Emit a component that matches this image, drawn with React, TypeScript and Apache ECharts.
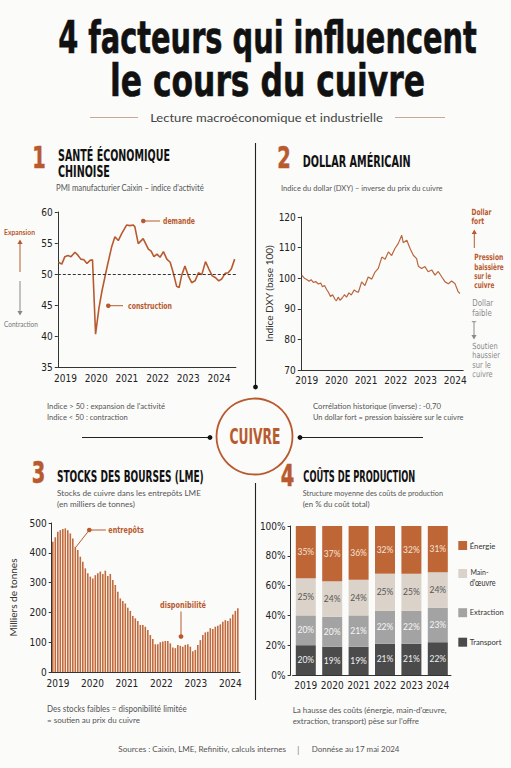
import React, { useEffect, useRef } from 'react';
import * as echarts from 'echarts';

// ---------- DATA ----------
const yearLabels = ['2019', '2020', '2021', '2022', '2023', '2024'];
const yearTicks = [2019, 2020, 2021, 2022, 2023, 2024];

// 1. PMI manufacturier Caixin
const pmiYears = [
  2018.77, 2018.88, 2018.98, 2019.08, 2019.18, 2019.31, 2019.41, 2019.5, 2019.6, 2019.7,
  2019.8, 2019.88, 2019.98, 2020.09, 2020.19, 2020.34, 2020.5, 2020.61, 2020.72, 2020.83,
  2020.99, 2021.1, 2021.21, 2021.26, 2021.37, 2021.53, 2021.7, 2021.79, 2021.88, 2021.98,
  2022.08, 2022.19, 2022.3, 2022.41, 2022.51, 2022.62, 2022.7, 2022.78, 2022.89, 2023.0,
  2023.11, 2023.22, 2023.33, 2023.44, 2023.56, 2023.67, 2023.78, 2023.89, 2023.99, 2024.09,
  2024.2, 2024.3, 2024.4, 2024.51,
];
const pmiValues = [
  51.9, 51.6, 52.8, 53.0, 52.8, 53.5, 53.0, 52.4, 52.3, 51.7,
  52.2, 52.3, 40.3, 44.5, 47.3, 50.8, 54.3, 56.0, 55.4, 56.5,
  57.9, 57.8, 57.9, 57.6, 54.9, 55.7, 54.0, 53.7, 52.8, 53.2,
  52.7, 53.6, 52.4, 51.9, 50.2, 48.0, 47.8, 49.7, 51.3, 49.7,
  48.6, 48.9, 50.2, 49.9, 52.0, 50.8, 49.7, 49.4, 48.9, 49.2,
  50.1, 50.2, 50.8, 52.4,
];

// 2. Indice du dollar (DXY)
const dxyYears = [
  2018.83, 2018.92, 2019.0, 2019.08, 2019.15, 2019.22, 2019.3, 2019.39, 2019.47, 2019.53,
  2019.6, 2019.67, 2019.73, 2019.8, 2019.87, 2019.95, 2020.0, 2020.06, 2020.12, 2020.2,
  2020.27, 2020.34, 2020.42, 2020.5, 2020.6, 2020.67, 2020.74, 2020.85, 2020.96, 2021.07,
  2021.19, 2021.3, 2021.41, 2021.53, 2021.64, 2021.75, 2021.86, 2021.97, 2022.08, 2022.2,
  2022.25, 2022.37, 2022.48, 2022.59, 2022.7, 2022.76, 2022.87, 2022.98, 2023.09, 2023.21,
  2023.32, 2023.43, 2023.55, 2023.66, 2023.77, 2023.88, 2023.99, 2024.1, 2024.16,
];
const dxyValues = [
  101.0, 100.0, 99.6, 99.0, 99.5, 98.6, 98.9, 98.1, 98.4, 97.2,
  97.6, 96.3, 95.4, 94.0, 94.6, 93.1, 92.6, 93.8, 92.8, 93.6,
  94.6, 93.8, 95.2, 94.5, 96.2, 95.6, 95.4, 98.8, 97.6, 100.4,
  99.7, 102.0, 103.2, 106.9, 106.2, 108.6, 107.4, 109.7, 111.3, 114.0,
  111.6, 112.4, 109.7, 107.5, 106.4, 103.9, 103.2, 103.8, 102.1, 102.7,
  101.0, 102.2, 100.4, 98.8, 98.2, 99.1, 98.3, 95.6, 95.0,
];

// 3. Stocks LME (milliers de tonnes), périodes régulières
const lmeStart = 2018.852;
const lmeStep = 0.0725;
const lmeStocks = [
  437, 452, 471, 476, 480, 482, 476, 465, 448, 420, 409, 387, 370, 348, 331, 320, 314, 325,
  331, 337, 329, 340, 322, 329, 309, 292,
  269, 247, 238, 230, 216, 205, 188, 180, 171, 158, 158, 152, 141, 124, 111, 93, 93, 100,
  102, 104, 104, 96, 82, 80, 91, 88, 85, 91, 93, 85, 70, 74, 91, 107, 124, 133, 135, 147,
  144, 152, 155, 160, 169, 174, 171, 180, 193, 205, 214,
];

// 4. Coûts de production (%)
const energie = [35, 37, 36, 32, 32, 31];
const mainOeuvre = [25, 24, 24, 25, 25, 24];
const extraction = [20, 20, 21, 22, 22, 23];
const transport = [20, 19, 19, 21, 21, 22];

// ---------- STYLE ----------
const COND = '"Liberation Sans Narrow", "DejaVu Sans Condensed", sans-serif';
const HEAVY = '"DejaVu Sans Condensed", "DejaVu Sans", sans-serif';
const BODY = 'Lato, "Open Sans", "Noto Sans", sans-serif';
const ORANGE = '#b85a2e';
const BG = '#fbfbfa';
const C_ENERGIE = '#bf6636';
const C_MAIN = '#dbd3ca';
const C_EXTR = '#a3a3a3';
const C_TRANS = '#4b4b4b';

let measureCtx: CanvasRenderingContext2D | null = null;
function measure(text: string, font: string) {
  if (!measureCtx) measureCtx = document.createElement('canvas').getContext('2d');
  if (!measureCtx) return 0;
  measureCtx.font = font;
  return measureCtx.measureText(text).width;
}

function T(text: string, x: number, y: number, o: any = {}) {
  const size = o.size ?? 8.5;
  const weight = o.weight ?? 'normal';
  const family = o.family ?? BODY;
  const font = `${weight} ${size}px ${family}`;
  let sx = 1;
  if (o.width) {
    const w = measure(text, font);
    if (w > 0) sx = o.width / w;
  }
  const align = o.align ?? 'left';
  const style: any = {
    text,
    font,
    fill: o.color ?? '#555',
    textAlign: align,
    align,
    verticalAlign: 'middle',
    textVerticalAlign: 'middle',
  };
  if (o.stroke) {
    style.stroke = o.color;
    style.lineWidth = o.stroke;
  }
  return { type: 'text', x, y, scaleX: sx, silent: true, z: 10, style };
}
function L(x1: number, y1: number, x2: number, y2: number, color = '#222', w = 1.1) {
  return { type: 'line', silent: true, z: 5, shape: { x1, y1, x2, y2 }, style: { stroke: color, lineWidth: w } };
}
function Dot(cx: number, cy: number, r = 2.4, color = '#111') {
  return { type: 'circle', silent: true, z: 12, shape: { cx, cy, r }, style: { fill: color } };
}
function Head(x: number, y: number, dir: number, color: string) {
  return {
    type: 'polygon',
    silent: true,
    z: 6,
    shape: { points: [[x, y], [x - 2.6, y - dir * 4.5], [x + 2.6, y - dir * 4.5]] },
    style: { fill: color },
  };
}

function buildGraphic() {
  const g: any[] = [];
  // Title
  g.push(T('4 facteurs qui influencent', 267.5, 37, { size: 45, weight: 'bold', family: HEAVY, color: '#111', width: 419, align: 'center', stroke: 0.6 }));
  g.push(T('le cours du cuivre', 267.5, 80, { size: 45, weight: 'bold', family: HEAVY, color: '#111', width: 315, align: 'center', stroke: 0.6 }));
  g.push(T('Lecture macroéconomique et industrielle', 266.5, 117.5, { size: 11.5, color: '#444', width: 233, align: 'center' }));
  g.push(L(90, 117.5, 138, 117.5, '#caa696', 1));
  g.push(L(395, 117.5, 445, 117.5, '#caa696', 1));

  // Dividers + center
  g.push(L(255.5, 143, 255.5, 387));
  g.push(Dot(255.5, 387));
  g.push(L(82, 437.5, 210, 437.5));
  g.push(Dot(210, 437.5));
  g.push(L(300, 437.5, 423, 437.5));
  g.push(Dot(300, 437.5));
  g.push(L(255.5, 483, 255.5, 700));
  g.push({ type: 'circle', silent: true, z: 8, shape: { cx: 254.5, cy: 436.5, r: 38 }, style: { fill: BG, stroke: ORANGE, lineWidth: 1.8 } });
  g.push(T('CUIVRE', 255, 436.5, { size: 21, weight: 'bold', family: HEAVY, color: ORANGE, width: 51, align: 'center' }));

  // Panel numbers
  const num = (t: string, x: number, y: number) =>
    T(t, x, y, { size: 31, weight: 'bold', family: HEAVY, color: ORANGE, width: 13.5, align: 'center', stroke: 0.5 });
  g.push(num('1', 39, 157));
  g.push(num('2', 284, 157));
  g.push(num('3', 38.5, 471.5));
  g.push(num('4', 287.5, 475));

  // Panel titles
  const ttl = (t: string, x: number, y: number, w: number) => T(t, x, y, { size: 15.5, weight: 'bold', family: HEAVY, color: '#111', width: w });
  g.push(ttl('SANTÉ ÉCONOMIQUE', 58, 156, 112));
  g.push(ttl('CHINOISE', 58, 171.5, 52));
  g.push(ttl('DOLLAR AMÉRICAIN', 302.7, 162, 108));
  g.push(ttl('STOCKS DES BOURSES (LME)', 57, 477, 147));
  g.push(ttl('COÛTS DE PRODUCTION', 303.3, 477, 112));

  // Subtitles
  const sub = (t: string, x: number, y: number, w: number) => T(t, x, y, { size: 8.5, color: '#555', width: w });
  g.push(sub("PMI manufacturier Caixin – indice d'activité", 56, 188, 148));
  g.push(sub('Indice du dollar (DXY) – inverse du prix du cuivre', 281, 188, 162));
  g.push(sub('Stocks de cuivre dans les entrepôts LME', 57, 493, 144));
  g.push(sub('(en milliers de tonnes)', 57, 504, 78));
  g.push(sub('Structure moyenne des coûts de production', 302.7, 493, 140.6));
  g.push(sub('(en % du coût total)', 302.7, 504, 67));

  // Notes
  g.push(sub("Indice > 50 : expansion de l'activité", 47, 406, 118));
  g.push(sub('Indice < 50 : contraction', 47, 417, 80.7));
  g.push(sub('Corrélation historique (inverse) : -0,70', 313, 406, 128));
  g.push(sub('Un dollar fort = pression baissière sur le cuivre', 313, 417, 151));
  g.push(sub('Des stocks faibles = disponibilité limitée', 47, 709, 140));
  g.push(sub('= soutien au prix du cuivre', 47, 720, 93));
  g.push(sub("La hausse des coûts (énergie, main-d'œuvre,", 292.7, 710, 154));
  g.push(sub("extraction, transport) pèse sur l'offre", 292.7, 720.7, 126.6));

  // Footer
  g.push(sub('Sources : Caixin, LME, Refinitiv, calculs internes', 118.3, 749, 168));
  g.push(T('|', 298.3, 749, { size: 10, color: '#888', align: 'center' }));
  g.push(sub('Donnése au 17 mai 2024', 311.7, 749, 88));

  // Panel 1 annotations
  g.push(T('Expansion', 4, 232, { size: 7.5, weight: 'bold', color: ORANGE, width: 31 }));
  g.push(L(20, 272, 20, 243, ORANGE, 1));
  g.push(Head(20, 239.5, -1, ORANGE));
  g.push(L(20, 281, 20, 311, '#888', 1));
  g.push(Head(20, 315.5, 1, '#888'));
  g.push(T('Contraction', 4, 323.5, { size: 7.5, color: '#777', width: 34 }));
  const ann = (t: string, x: number, y: number, w: number, align = 'left') =>
    T(t, x, y, { size: 9.5, weight: 'bold', family: COND, color: ORANGE, width: w, align });
  g.push(L(143.3, 221, 160, 221, ORANGE, 1));
  g.push(Dot(143.3, 221, 2.3, ORANGE));
  g.push(ann('demande', 163, 221, 32));
  g.push(L(108.3, 305.7, 123, 305.7, ORANGE, 1));
  g.push(Dot(108.3, 305.7, 2.3, ORANGE));
  g.push(ann('construction', 128, 305.7, 44));

  // Panel 2 annotations
  const side = (t: string, y: number, w: number, color: string, x = 471.5) =>
    T(t, x, y, { size: 8.5, weight: 'bold', family: COND, color, width: w });
  g.push(side('Dollar', 212, 20, ORANGE));
  g.push(side('fort', 221, 12.5, ORANGE));
  g.push(L(474.3, 248, 474.3, 233, ORANGE, 1));
  g.push(Head(474.3, 229.5, -1, ORANGE));
  g.push(side('Pression', 257.7, 29, ORANGE, 474.3));
  g.push(side('baissière', 266.7, 29.4, ORANGE, 474.3));
  g.push(side('sur le', 276, 16.7, ORANGE, 474.3));
  g.push(side('cuivre', 285, 20, ORANGE, 474.3));
  const GR = '#8a8a8a';
  g.push(T('Dollar', 472.3, 303.3, { size: 8.5, family: COND, color: GR, width: 21 }));
  g.push(T('faible', 472.3, 313.3, { size: 8.5, family: COND, color: GR, width: 19.4 }));
  g.push(L(471.8, 321.7, 476.2, 321.7, GR, 1));
  g.push(L(474, 321.7, 474, 336, GR, 1));
  g.push(Head(474, 339.5, 1, GR));
  g.push(T('Soutien', 472.3, 346.7, { size: 8.5, family: COND, color: GR, width: 25.4 }));
  g.push(T('haussier', 472.3, 355.7, { size: 8.5, family: COND, color: GR, width: 27.7 }));
  g.push(T('sur le', 472.3, 365, { size: 8.5, family: COND, color: GR, width: 18.7 }));
  g.push(T('cuivre', 472.3, 374, { size: 8.5, family: COND, color: GR, width: 20.4 }));

  // Panel 3 annotations
  g.push({ type: 'polyline', silent: true, z: 6, shape: { points: [[76, 547], [89.3, 530], [106, 530]] }, style: { stroke: ORANGE, lineWidth: 1, fill: null } });
  g.push(Dot(89.3, 530, 2.3, ORANGE));
  g.push(ann('entrepôts', 108.3, 530, 35.7));
  g.push(ann('disponibilité', 183, 604.3, 46, 'center'));
  g.push(L(181, 611.5, 181, 634, ORANGE, 1));
  g.push(Dot(181, 636.5, 2.4, ORANGE));

  // Panel 4 legend
  const leg = (color: string, y: number) => ({ type: 'rect', silent: true, z: 6, shape: { x: 458.3, y: y - 4.5, width: 8.8, height: 9 }, style: { fill: color } });
  g.push(leg(C_ENERGIE, 545.5));
  g.push(T('Énergie', 469.7, 545.7, { size: 8.5, color: '#333', width: 25.7 }));
  g.push(leg(C_MAIN, 573.5));
  g.push(T('Main-', 470.5, 571.7, { size: 8.5, color: '#333', width: 18 }));
  g.push(T("d'œuvre", 469.7, 582.7, { size: 8.5, color: '#333', width: 26 }));
  g.push(leg(C_EXTR, 612.7));
  g.push(T('Extraction', 469.7, 612.3, { size: 8.5, color: '#333', width: 34 }));
  g.push(leg(C_TRANS, 642.2));
  g.push(T('Transport', 469.7, 642, { size: 8.5, color: '#333', width: 31.7 }));
  return g;
}

const axisLabelStyle = { fontFamily: COND, fontSize: 10, color: '#222' };
const axisLineStyle = { show: true, lineStyle: { color: '#333', width: 1 } };

function buildOption() {
  const pmiData = pmiYears.map((x, i) => [x, pmiValues[i]]);
  const dxyData = dxyYears.map((x, i) => [x, dxyValues[i]]);
  const lmeData = lmeStocks.map((v, i) => [lmeStart + i * lmeStep, v]);
  const yearFmt = (v: number) => String(Math.round(v));
  const valueX = (gridIndex: number, min: number, max: number, margin: number) => ({
    type: 'value',
    gridIndex,
    min,
    max,
    axisLine: axisLineStyle,
    axisTick: { show: false },
    splitLine: { show: false },
    axisLabel: { ...axisLabelStyle, customValues: yearTicks, formatter: yearFmt, margin },
  });
  const yAx = (gridIndex: number, min: number, max: number, interval: number, extra: any = {}) => ({
    type: 'value',
    gridIndex,
    min,
    max,
    interval,
    axisLine: axisLineStyle,
    axisTick: { show: true, length: 3, lineStyle: { color: '#333' } },
    splitLine: { show: false },
    axisLabel: { ...axisLabelStyle, margin: 5 },
    ...extra,
  });
  const stackLabel = (color: string) => ({
    show: true,
    position: 'inside',
    formatter: '{c}%',
    fontFamily: BODY,
    fontSize: 8.5,
    color,
  });
  return {
    animation: false,
    backgroundColor: BG,
    textStyle: { fontFamily: BODY },
    grid: [
      { left: 57.8, top: 212, width: 178.1, height: 155, outerBoundsMode: 'none' },
      { left: 300.8, top: 217, width: 162.4, height: 153, outerBoundsMode: 'none' },
      { left: 51.7, top: 523, width: 188.3, height: 149, outerBoundsMode: 'none' },
      { left: 292.6, top: 526, width: 158.4, height: 149, outerBoundsMode: 'none' },
    ],
    xAxis: [
      valueX(0, 2018.75, 2024.55, 6),
      valueX(1, 2018.8, 2024.27, 5),
      valueX(2, 2018.82, 2024.28, 6),
      {
        type: 'category',
        gridIndex: 3,
        data: yearLabels,
        axisLine: axisLineStyle,
        axisTick: { show: false },
        axisLabel: { ...axisLabelStyle, margin: 5, interval: 0 },
      },
    ],
    yAxis: [
      yAx(0, 35, 60, 5),
      yAx(1, 70, 120, 10, {
        name: 'Indice DXY (base 100)',
        nameLocation: 'middle',
        nameGap: 27,
        nameTextStyle: { fontFamily: BODY, fontSize: 10, color: '#333' },
      }),
      yAx(2, 0, 500, 100, {
        name: 'Milliers de tonnes',
        nameLocation: 'middle',
        nameGap: 34,
        nameTextStyle: { fontFamily: BODY, fontSize: 10, color: '#333' },
      }),
      { ...yAx(3, 0, 100, 20), offset: 2, axisLabel: { ...axisLabelStyle, margin: 5, formatter: '{value}%' } },
    ],
    series: [
      {
        type: 'line',
        xAxisIndex: 0,
        yAxisIndex: 0,
        data: pmiData,
        symbol: 'none',
        lineStyle: { color: ORANGE, width: 1.6 },
        markLine: {
          silent: true,
          symbol: ['none', 'none'],
          label: { show: false },
          lineStyle: { color: '#333', type: [3, 2], width: 1 },
          data: [{ yAxis: 50 }],
        },
      },
      {
        type: 'line',
        xAxisIndex: 1,
        yAxisIndex: 1,
        data: dxyData,
        symbol: 'none',
        lineStyle: { color: '#b9663d', width: 1.2 },
      },
      {
        type: 'bar',
        xAxisIndex: 2,
        yAxisIndex: 2,
        data: lmeData,
        barWidth: 1.6,
        itemStyle: { color: '#c26a3c' },
      },
      {
        name: 'Transport',
        type: 'bar',
        xAxisIndex: 3,
        yAxisIndex: 3,
        stack: 'cout',
        barWidth: 20,
        data: transport,
        itemStyle: { color: C_TRANS },
        label: stackLabel('#f2f2f2'),
      },
      {
        name: 'Extraction',
        type: 'bar',
        xAxisIndex: 3,
        yAxisIndex: 3,
        stack: 'cout',
        barWidth: 20,
        data: extraction,
        itemStyle: { color: C_EXTR },
        label: stackLabel('#f7f7f7'),
      },
      {
        name: "Main-d'œuvre",
        type: 'bar',
        xAxisIndex: 3,
        yAxisIndex: 3,
        stack: 'cout',
        barWidth: 20,
        data: mainOeuvre,
        itemStyle: { color: C_MAIN },
        label: stackLabel('#555'),
      },
      {
        name: 'Énergie',
        type: 'bar',
        xAxisIndex: 3,
        yAxisIndex: 3,
        stack: 'cout',
        barWidth: 20,
        data: energie,
        itemStyle: { color: C_ENERGIE },
        label: stackLabel('#f6e3d6'),
      },
    ],
    graphic: { elements: buildGraphic() },
  };
}

export default function App() {
  const ref = useRef<HTMLDivElement>(null);
  useEffect(() => {
    if (!ref.current) return;
    const chart = echarts.init(ref.current, undefined, { renderer: 'svg' });
    chart.setOption(buildOption() as any);
    return () => chart.dispose();
  }, []);
  return (
    <div
      ref={ref}
      style={{ position: 'absolute', left: 0, top: 0, width: 511, height: 768, background: BG }}
    />
  );
}
